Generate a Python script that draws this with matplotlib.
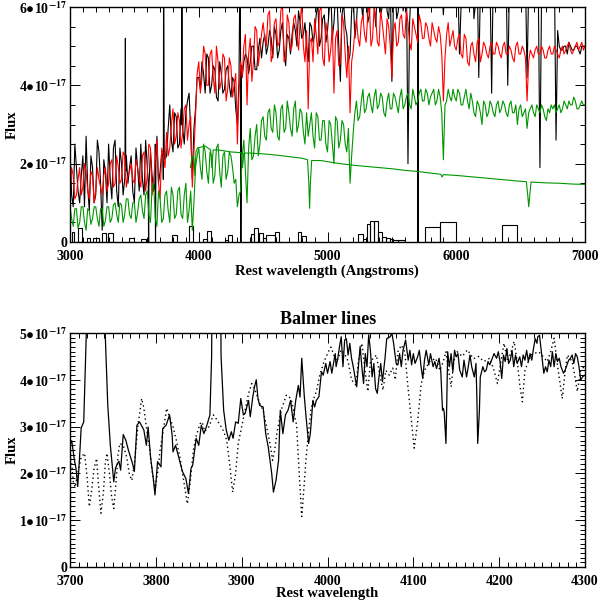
import numpy as np
import matplotlib
matplotlib.use('Agg')
import matplotlib.pyplot as plt
from matplotlib.ticker import MultipleLocator, FuncFormatter

plt.rcParams['font.family'] = ['Liberation Serif', 'DejaVu Serif']
plt.rcParams['font.weight'] = 'bold'
plt.rcParams['mathtext.fontset'] = 'stix'

# ---- top panel: full spectrum (flux in units of 1e-17) ----
wave = np.arange(3000, 7001, 25)
wave_mid = np.arange(3012.5, 7000, 25)

red_flux = [
    1.3, 1.7, 1.2, 1.9, 1.4, 1.8, 1.1, 1.7, 1.3, 1.6,
    1.2, 1.9, 1.5, 2.1, 1.5, 1.9, 1.6, 2.2, 1.7, 2.0,
    1.5, 1.9, 1.4, 2.3, 1.7, 2.4, 1.6, 2.6, 1.1, 2.2,
    2.8, 2.4, 3.4, 2.7, 3.1, 2.8, 3.5, 3.0, 1.4, 3.2,
    4.6, 4.2, 4.8, 4.0, 4.9, 3.8, 4.6, 4.1, 4.7, 3.9,
    4.5, 4.0, 2.5, 4.6, 5.0, 3.5, 5.2, 4.6, 5.4, 4.9,
    5.6, 5.0, 5.9, 4.8, 5.7, 5.1, 6.1, 4.7, 5.6, 5.0,
    5.8, 4.9, 6.1, 4.6, 3.4, 5.2, 5.7, 4.8, 6.0, 4.5,
    5.3, 4.9, 3.8, 5.4, 4.6, 5.6, 4.2, 3.3, 4.9, 5.7,
    5.0, 5.8, 5.1, 6.1, 5.2, 5.7, 5.0, 5.6, 4.8, 5.5,
    4.2, 5.6, 5.1, 5.8, 5.2, 5.6, 4.9, 5.5, 5.1, 5.6,
    5.2, 5.5, 5.0, 5.4, 5.1, 5.3, 3.6, 5.3, 5.0, 5.4,
    4.9, 5.3, 4.7, 5.2, 4.5, 5.1, 4.6, 5.2, 4.8, 5.0,
    4.7, 5.1, 4.8, 5.0, 4.7, 5.1, 4.8, 4.9, 4.6, 5.1,
    4.8, 4.9, 3.6, 4.9, 4.7, 5.0, 4.8, 4.9, 4.7, 5.0,
    4.8, 4.9, 4.7, 5.0, 4.9, 5.1, 4.8, 5.0, 4.9, 5.1,
    5.0]
red_flux_mid = [
    1.9, 1.1, 1.6, 1.2, 2.0, 1.3, 1.8, 1.0, 1.9, 1.4,
    1.7, 1.3, 2.0, 1.4, 2.2, 1.5, 2.3, 1.4, 1.8, 1.6,
    2.1, 1.6, 2.2, 1.3, 2.5, 1.2, 2.1, 1.5, 2.4, 1.9,
    2.2, 3.0, 2.5, 3.3, 2.4, 3.4, 2.6, 3.2, 2.3, 4.3,
    3.8, 5.0, 4.0, 4.8, 4.2, 5.0, 3.9, 4.8, 3.6, 4.7,
    3.7, 4.3, 3.8, 4.2, 5.3, 4.8, 4.1, 5.5, 4.5, 5.3,
    5.2, 5.8, 4.6, 5.6, 5.0, 5.9, 4.6, 5.8, 4.9, 5.7,
    5.3, 5.6, 5.0, 5.4, 5.1, 4.6, 5.3, 5.9, 4.7, 5.6,
    4.6, 5.5, 5.2, 4.5, 5.8, 4.8, 5.0, 4.6, 5.4, 5.2,
    5.6, 5.3, 5.8, 5.0, 6.0, 5.1, 5.9, 5.2, 5.7, 5.0,
    5.4, 5.0, 5.7, 5.3, 5.9, 5.1, 5.7, 5.3, 5.8, 5.2,
    5.6, 5.2, 5.6, 5.2, 5.5, 4.8, 4.7, 5.6, 5.2, 5.0,
    5.2, 4.8, 5.3, 4.6, 5.0, 4.8, 5.1, 4.6, 5.1, 4.8,
    5.0, 4.8, 5.1, 4.8, 5.0, 4.8, 5.0, 4.7, 5.0, 4.8,
    5.0, 4.7, 4.6, 4.8, 4.9, 4.8, 5.0, 4.7, 4.9, 4.8,
    5.0, 4.8, 4.9, 4.8, 5.0, 4.9, 4.9, 5.1, 5.0, 4.9]

green_flux = [
    0.9, 0.4, 0.85, 0.5, 0.9, 0.3, 0.8, 0.6, 0.9, 0.4,
    0.85, 0.55, 0.9, 0.6, 1.0, 0.5, 0.95, 0.7, 1.1, 0.6,
    1.0, 0.75, 1.2, 0.6, 1.3, 0.5, 1.5, 0.4, 1.1, 0.6,
    1.3, 0.5, 1.2, 0.7, 1.4, 0.6, 1.5, 0.8, 0.3, 1.9,
    2.4, 1.6, 2.3, 1.5, 2.2, 1.7, 2.5, 1.4, 2.3, 1.8,
    2.2, 1.5, 0.9, 1.3, 2.6, 1.0, 2.9, 2.2, 3.0, 2.5,
    3.2, 2.6, 3.4, 2.8, 3.3, 2.6, 3.5, 2.9, 3.3, 2.7,
    3.6, 3.0, 3.3, 2.5, 2.7, 3.3, 2.4, 3.2, 2.6, 3.1,
    2.3, 3.0, 2.0, 3.1, 2.6, 3.0, 2.3, 1.5, 2.8, 3.6,
    3.2, 3.9, 3.4, 3.8, 3.3, 3.9, 3.5, 3.7, 3.2, 3.8,
    3.4, 3.7, 3.3, 3.9, 3.5, 3.8, 3.4, 3.7, 3.6, 3.9,
    3.6, 3.8, 3.7, 3.9, 3.6, 3.7, 2.1, 3.6, 3.7, 3.9,
    3.6, 3.8, 3.5, 3.9, 3.4, 3.6, 3.2, 3.5, 3.0, 3.5,
    3.3, 3.5, 3.2, 3.6, 3.4, 3.5, 3.2, 3.6, 3.3, 3.0,
    3.5, 3.3, 2.9, 3.4, 3.3, 3.5, 3.3, 3.4, 3.1, 3.3,
    3.4, 3.3, 3.5, 3.4, 3.5, 3.6, 3.5, 3.6, 3.4, 3.6,
    3.5]
green_flux_mid = [
    0.6, 0.85, 0.35, 0.9, 0.5, 0.85, 0.45, 0.9, 0.6, 0.85,
    0.4, 0.9, 0.5, 0.95, 0.7, 1.0, 0.5, 1.1, 0.7, 1.0,
    0.5, 1.1, 0.8, 1.2, 0.7, 1.4, 0.6, 1.3, 0.5, 1.2,
    0.8, 1.4, 0.6, 1.3, 0.7, 1.2, 0.5, 1.3, 1.0, 2.2,
    1.9, 2.5, 1.8, 2.3, 1.5, 2.4, 1.8, 2.2, 1.6, 2.3,
    1.9, 1.6, 1.2, 2.2, 1.8, 2.4, 2.1, 2.7, 2.2, 3.1,
    2.7, 3.3, 2.9, 3.5, 2.7, 3.4, 2.8, 3.6, 2.9, 3.4,
    2.8, 3.4, 2.8, 3.3, 3.0, 2.7, 3.3, 2.6, 3.1, 2.5,
    3.1, 2.5, 3.2, 2.4, 3.1, 2.5, 2.9, 2.2, 3.3, 3.1,
    3.6, 3.3, 3.7, 3.5, 3.7, 3.4, 3.8, 3.3, 3.6, 3.4,
    3.8, 3.5, 3.7, 3.4, 3.7, 3.5, 3.9, 3.5, 3.8, 3.6,
    3.9, 3.5, 3.8, 3.5, 3.9, 3.3, 3.5, 3.9, 3.6, 3.7,
    3.9, 3.5, 3.7, 3.6, 3.8, 3.3, 3.6, 3.3, 3.6, 3.2,
    3.6, 3.3, 3.5, 3.3, 3.6, 3.3, 3.5, 3.3, 3.5, 3.4,
    3.2, 3.4, 3.3, 3.5, 3.2, 3.4, 3.5, 3.2, 3.4, 3.5,
    3.5, 3.4, 3.3, 3.6, 3.4, 3.5, 3.7, 3.4, 3.5, 3.5]

black_flux = [
    2.4, 0.9, 1.9, 1.0, 2.2, 2.7, 0.8, 1.9, 1.2, 2.3,
    0.3, 1.8, 2.5, 1.1, 2.6, 0.9, 2.0, 1.6, 1.5, 2.2,
    1.0, 1.9, 2.5, 1.2, 1.9, 2.3, 1.3, 2.7, 1.8, 1.6,
    2.2, 3.5, 2.3, 3.2, 2.5, 2.9, 3.3, 3.8, 1.6, 3.4,
    4.2, 4.6, 3.8, 4.7, 4.0, 4.4, 3.6, 4.3, 3.9, 4.5,
    3.7, 4.1, 3.0, 4.6, 4.6, 4.7, 4.6, 5.0, 4.4, 5.2,
    5.1, 4.8, 5.4, 4.7, 5.3, 4.9, 5.6, 4.5, 5.2, 5.3,
    5.4, 5.9, 5.2, 5.6, 4.6, 5.5, 5.3, 6.1, 5.2, 5.8,
    5.4, 6.5, 5.6, 6.2, 4.1, 6.1, 5.3, 4.8, 6.3, 5.6,
    6.5, 5.7, 6.6, 5.8, 6.4, 5.5, 6.6, 6.0, 6.8, 5.7,
    4.1, 6.5, 5.9, 6.8, 6.2, 2.0, 6.5, 6.8, 7.0, 6.9,
    6.6, 6.9, 6.2, 7.0, 6.4, 6.8, 5.8, 7.0, 6.3, 6.9,
    6.2, 4.8, 6.9, 6.8, 6.0, 6.9, 6.1, 4.2, 6.7, 6.3,
    6.9, 3.8, 6.8, 6.2, 6.9, 6.4, 4.0, 6.7, 6.7, 6.3,
    6.9, 6.2, 4.2, 6.8, 6.3, 6.9, 1.9, 6.8, 6.4, 6.9,
    6.2, 2.6, 5.0, 4.9, 5.0, 5.1, 4.9, 5.0, 4.9, 5.0,
    5.0]
black_flux_mid = [
    1.2, 2.5, 1.3, 1.7, 0.9, 1.4, 2.2, 1.0, 2.6, 1.5,
    2.1, 1.0, 1.6, 2.4, 1.3, 2.4, 1.2, 2.2, 1.9, 1.3,
    2.4, 1.3, 1.6, 2.6, 1.4, 1.7, 2.5, 1.5, 2.3, 2.1,
    2.9, 2.6, 3.3, 2.4, 3.4, 2.5, 3.6, 2.8, 2.9, 4.2,
    3.9, 4.3, 4.8, 3.8, 4.5, 3.7, 4.6, 3.8, 4.4, 4.0,
    4.2, 3.4, 4.1, 4.2, 4.8, 4.3, 5.0, 4.4, 4.9, 4.7,
    5.3, 5.0, 5.2, 5.5, 4.7, 5.4, 4.9, 5.3, 4.8, 5.6,
    5.0, 5.6, 5.3, 5.0, 5.6, 5.1, 5.8, 5.0, 5.7, 5.1,
    5.9, 5.2, 6.3, 5.0, 5.8, 5.5, 4.6, 5.9, 5.2, 6.4,
    6.1, 6.8, 5.6, 6.5, 6.0, 6.7, 5.8, 6.3, 5.9, 6.6,
    6.2, 5.7, 6.6, 5.9, 6.9, 5.6, 7.0, 6.4, 6.8, 6.2,
    7.0, 6.4, 6.8, 6.3, 7.0, 6.5, 6.6, 6.4, 7.0, 6.2,
    6.7, 6.1, 7.0, 6.4, 6.8, 5.7, 6.9, 6.5, 7.0, 6.1,
    6.6, 6.9, 6.3, 6.9, 6.0, 6.7, 6.5, 6.9, 6.1, 6.8,
    6.5, 6.8, 6.5, 6.1, 6.9, 6.4, 6.3, 6.7, 6.2, 6.6,
    6.8, 5.4, 4.9, 5.0, 4.8, 5.0, 4.9, 5.0, 4.8, 5.0]

# emission lines / bad pixels in the black spectrum
spike_wave = [3427, 3430, 3433, 3608, 3611, 3614, 3661, 3664, 3667,
              3722, 3727, 3732, 3866, 3869, 3872, 4321, 4327, 4332,
              5703, 5707]
spike_flux = [1.8, 5.2, 1.8, 1.5, -0.5, 1.5, 1.5, -0.5, 2.0,
              2.2, 7.5, 2.2, 3.0, 7.5, 3.0, 7.5, -0.5, 4.5,
              -0.5, 7.5]

model_wave = [3935, 3950, 3962, 3970, 3978, 3990,
              4050, 4092, 4102, 4112, 4150, 4250, 4330, 4340, 4350, 4400,
              4500, 4600, 4700, 4800, 4845, 4855, 4861, 4867, 4877, 4950,
              5000, 5100, 5200, 5300, 5400, 5500, 5600, 5700, 5800, 5880,
              5890, 5900, 6000, 6100, 6200, 6300, 6400, 6500, 6545, 6555,
              6563, 6571, 6581, 6700, 6800, 6900, 7000]
model_flux = [1.9, 2.2, 2.15, 1.7, 2.3, 2.4,
              2.45, 2.35, 1.9, 2.35, 2.35, 2.3, 2.28, 1.9, 2.27, 2.27,
              2.25, 2.22, 2.18, 2.14, 2.1, 1.5, 0.86, 1.5, 2.08, 2.08,
              2.05, 2.0, 1.96, 1.93, 1.9, 1.87, 1.83, 1.8, 1.76, 1.73,
              1.66, 1.72, 1.7, 1.67, 1.64, 1.61, 1.58, 1.55, 1.54, 1.2,
              0.9, 1.2, 1.53, 1.51, 1.5, 1.48, 1.47]

hist_left = [3012, 3062, 3129, 3179, 3248, 3296, 3462, 3554, 3796, 3921,
             4033, 4064, 4200, 4228, 4409, 4431, 4470, 4498, 4526, 4590,
             4771, 4798, 5239, 5273, 5304, 5330, 5361, 5395, 5426, 5452,
             5486, 5512, 5551, 5757, 5874, 6353]
hist_right = [3034, 3096, 3156, 3224, 3276, 3337, 3495, 3590, 3829, 3955,
              4064, 4097, 4228, 4261, 4431, 4464, 4498, 4526, 4590, 4626,
              4798, 4832, 5273, 5304, 5330, 5361, 5395, 5426, 5452, 5486,
              5512, 5551, 5603, 5874, 5996, 6474]
hist_height = [0.26, 0.35, 0.09, 0.10, 0.22, 0.24, 0.10, 0.07, 0.18, 0.40,
               0.07, 0.28, 0.05, 0.17, 0.21, 0.35, 0.24, 0.10, 0.19, 0.26,
               0.26, 0.16, 0.20, 0.08, 0.46, 0.54, 0.53, 0.25, 0.13, 0.10,
               0.08, 0.06, 0.04, 0.39, 0.50, 0.43]

# ---- bottom panel: Balmer region ----
obs_wave = [3700, 3702, 3705, 3707, 3709, 3711, 3713, 3716, 3719, 3722,
            3738, 3741, 3744, 3747, 3751, 3753, 3755, 3757, 3759, 3762,
            3765, 3768, 3771, 3773, 3775, 3778, 3781, 3784, 3786, 3789,
            3791, 3794, 3797, 3799, 3802, 3806, 3808, 3812, 3816, 3819,
            3820, 3823, 3827, 3831, 3835, 3838, 3841, 3843, 3847, 3850,
            3853, 3856, 3859, 3863, 3865, 3866, 3875, 3876, 3879, 3882,
            3885, 3888, 3890, 3893, 3896, 3899, 3902, 3904, 3908, 3910,
            3913, 3915, 3917, 3919, 3921, 3925, 3928, 3931, 3935, 3937,
            3940, 3943, 3945, 3948, 3951, 3954, 3957, 3960, 3963, 3966,
            3968, 3970, 3973, 3975, 3978, 3980, 3983, 3985, 3987, 3990,
            3993, 3995, 3998, 4000, 4003, 4005, 4007, 4009, 4010, 4012,
            4014, 4016, 4018, 4020, 4022, 4024, 4026, 4028, 4030, 4032,
            4034, 4036, 4038, 4040, 4042, 4044, 4046, 4048, 4050, 4052,
            4054, 4056, 4058, 4060, 4062, 4064, 4067, 4069, 4073, 4075,
            4077, 4080, 4082, 4084, 4086, 4088, 4091, 4094, 4096, 4098,
            4100, 4102, 4105, 4107, 4109, 4111, 4113, 4115, 4118, 4120,
            4123, 4125, 4127, 4130, 4132, 4134, 4135, 4136, 4138, 4139,
            4140, 4142, 4144, 4146, 4148, 4150, 4152, 4154, 4157, 4159,
            4162, 4164, 4166, 4168, 4171, 4173, 4174, 4175, 4177, 4178,
            4181, 4183, 4185, 4187, 4189, 4192, 4194, 4197, 4199, 4201,
            4203, 4205, 4207, 4209, 4211, 4213, 4215, 4217, 4219, 4221,
            4224, 4226, 4228, 4230, 4232, 4234, 4236, 4238, 4240, 4242,
            4244, 4245, 4247, 4249, 4251, 4252, 4254, 4256, 4258, 4260,
            4262, 4264, 4266, 4268, 4270, 4272, 4275, 4277, 4279, 4281,
            4283, 4285, 4287, 4289, 4291, 4293, 4295, 4297, 4300]
obs_flux = [2.6, 2.7, 2.3, 2.1, 1.72, 2.3, 2.97, 3.1, 5.0, 7.5,
            7.5, 5.0, 3.46, 2.6, 1.82, 2.11, 2.2, 2.26, 2.07, 2.83,
            2.71, 2.5, 2.32, 2.2, 2.04, 3.03, 3.1, 3.0, 2.93, 2.6,
            2.99, 2.32, 1.9, 1.54, 2.25, 2.14, 2.96, 3.03, 3.25, 2.82,
            2.46, 2.6, 2.32, 2.04, 1.89, 1.57, 2.11, 2.18, 2.75, 2.6,
            3.03, 2.85, 3.0, 3.25, 4.5, 7.5, 7.5, 4.5, 3.35, 2.93,
            2.71, 2.89, 2.75, 3.1, 3.07, 3.6, 3.25, 3.28, 3.56, 3.21,
            3.64, 3.85, 4.0, 3.6, 3.45, 3.42, 2.85, 2.56, 2.0, 1.6,
            1.85, 2.28, 3.35, 2.85, 3.25, 3.35, 3.56, 3.1, 3.56, 3.88,
            3.63, 4.46, 3.64, 3.21, 2.64, 2.85, 3.56, 3.42, 3.56, 3.64,
            4.17, 4.1, 4.35, 4.14, 4.39, 4.14, 4.35, 4.56, 4.28, 4.46,
            4.71, 4.92, 4.28, 4.85, 4.88, 4.53, 4.78, 4.46, 4.28, 4.06,
            3.85, 4.28, 4.71, 4.28, 3.92, 4.56, 4.28, 4.96, 4.63, 4.06,
            4.35, 3.81, 3.71, 4.06, 4.35, 3.96, 4.46, 4.88, 4.92, 5.0,
            4.78, 4.35, 4.32, 4.56, 4.28, 4.63, 4.85, 4.42, 4.63, 4.32,
            4.56, 4.35, 4.49, 4.63, 4.28, 4.03, 4.42, 4.63, 4.32, 4.56,
            4.28, 4.39, 4.24, 4.46, 4.17, 3.35, 3.39, 3.3, 2.64, 3.56,
            4.6, 4.28, 4.56, 4.17, 4.63, 4.49, 4.56, 4.21, 4.06, 4.42,
            4.06, 4.28, 4.53, 4.28, 4.06, 4.35, 3.64, 2.64, 3.35, 4.06,
            4.28, 4.17, 4.21, 4.39, 4.32, 4.46, 4.56, 4.46, 4.6, 4.39,
            4.03, 4.53, 4.39, 4.67, 4.35, 4.42, 4.63, 4.28, 4.53, 4.35,
            4.49, 4.28, 4.53, 4.42, 4.63, 4.39, 4.56, 4.42, 4.67, 4.88,
            4.78, 4.92, 4.95, 4.63, 4.32, 4.14, 4.28, 4.17, 4.42, 4.28,
            4.6, 4.28, 4.56, 4.39, 4.46, 4.28, 4.14, 4.21, 4.32, 4.42,
            4.46, 4.53, 4.35, 4.56, 4.49, 4.28, 3.99, 4.06, 4.1]

fit_wave = [3700, 3702, 3704, 3706, 3709, 3713, 3717, 3720, 3722.5, 3725,
            3728, 3731, 3733, 3736, 3739, 3741, 3743, 3746, 3748.5, 3751,
            3754, 3756, 3758, 3762, 3766, 3769, 3772, 3775, 3779, 3783.5,
            3786, 3789, 3793, 3796, 3799, 3802, 3805, 3809, 3812.6, 3816,
            3820, 3824, 3828, 3832, 3836.7, 3840, 3843.7, 3847, 3851.5, 3854,
            3857, 3862, 3867, 3871, 3875, 3879, 3882.5, 3886, 3889.5, 3893,
            3896, 3900, 3904, 3908, 3911.7, 3914, 3917, 3921, 3925, 3929,
            3933, 3936, 3938.5, 3941, 3946, 3952, 3955, 3958, 3961, 3964,
            3967, 3970, 3973, 3975, 3978, 3981, 3984, 3987, 3991, 3996,
            4002, 4004, 4008, 4011, 4016, 4020, 4024, 4028, 4033, 4036,
            4040, 4043, 4047, 4050, 4057, 4060, 4064.6, 4068, 4072, 4076,
            4079, 4082, 4086, 4090, 4093.5, 4097, 4101, 4105, 4109, 4113,
            4119, 4126, 4131, 4135, 4138, 4144, 4147, 4151, 4157, 4163,
            4170, 4176, 4182, 4189, 4194, 4198, 4202, 4205.7, 4210, 4214,
            4217.4, 4221, 4224, 4227, 4230, 4237, 4246, 4251, 4256, 4260,
            4264, 4268, 4273.5, 4277, 4279.5, 4285, 4288, 4291, 4295, 4300]
fit_flux = [2.5, 2.2, 1.8, 1.7, 2.0, 2.35, 2.43, 1.9, 1.29, 1.6,
            2.1, 2.32, 1.8, 1.15, 1.6, 2.2, 2.43, 2.0, 1.5, 1.25,
            1.9, 2.4, 2.64, 2.6, 2.35, 2.0, 1.85, 2.2, 3.0, 3.6,
            3.4, 2.99, 2.5, 2.0, 1.65, 2.0, 2.5, 2.96, 3.39, 3.2,
            3.0, 2.7, 2.35, 1.9, 1.35, 1.8, 2.49, 2.8, 3.06, 3.1,
            2.9, 3.0, 3.25, 3.15, 3.03, 2.9, 2.71, 2.2, 1.6, 2.0,
            2.64, 3.0, 3.35, 3.7, 3.92, 3.85, 3.71, 3.5, 3.35, 3.0,
            2.64, 2.28, 2.5, 2.85, 3.35, 3.67, 3.65, 3.56, 3.3, 3.03,
            2.0, 1.08, 1.8, 2.32, 2.9, 3.39, 3.6, 3.75, 4.1, 4.39,
            4.64, 4.7, 4.5, 4.39, 4.64, 4.55, 4.4, 4.0, 3.89, 4.39,
            4.78, 4.3, 3.75, 4.39, 4.53, 4.2, 3.78, 4.2, 4.1, 4.25,
            4.0, 4.6, 4.74, 4.6, 3.89, 3.25, 2.54, 3.1, 3.89, 4.2,
            4.39, 4.46, 4.2, 4.4, 4.6, 3.85, 4.39, 4.6, 4.5, 4.64,
            4.45, 4.5, 4.39, 4.46, 4.2, 3.92, 4.4, 4.78, 4.39, 4.6,
            4.82, 4.4, 3.9, 3.53, 4.2, 4.53, 4.6, 4.5, 4.39, 4.6,
            4.89, 4.3, 3.6, 4.2, 4.53, 4.39, 4.1, 3.75, 4.2, 4.3]


def merged(w1, f1, w2, f2):
    w = np.concatenate([w1, w2])
    f = np.concatenate([f1, f2])
    order = np.argsort(w, kind='stable')
    return w[order], f[order]


def flux_label(v, pos):
    n = int(round(v))
    if n == 0:
        return '0'
    return r'%d$\bullet$10$^{\mathbf{-17}}$' % n


def style_axes(ax):
    for s in ax.spines.values():
        s.set_linewidth(1.0)
    ax.tick_params(which='both', direction='in', top=True, right=True,
                   width=0.7, labelsize=10)
    ax.tick_params(which='major', length=7.5)
    ax.tick_params(which='minor', length=3.5)
    ax.tick_params(axis='x', pad=6)
    ax.tick_params(axis='y', pad=2)
    ax.yaxis.set_major_formatter(FuncFormatter(flux_label))


fig = plt.figure(figsize=(6.0, 6.08), dpi=100)

ax1 = fig.add_axes([70 / 600, 1 - 242 / 608, 515 / 600, 235 / 608])
bw, bf = merged(wave, black_flux, wave_mid, black_flux_mid)
bw, bf = merged(bw, bf, spike_wave, spike_flux)
rw, rf = merged(wave, red_flux, wave_mid, red_flux_mid)
gw, gf = merged(wave, green_flux, wave_mid, green_flux_mid)
ax1.plot(bw, bf, color='black', lw=0.8)
ax1.plot(rw, rf, color='#ff0000', lw=0.8)
ax1.plot(gw, gf, color='#009600', lw=0.8)
ax1.plot(model_wave, model_flux, color='#009600', lw=0.8)
ax1.bar(hist_left, hist_height,
        width=np.array(hist_right) - np.array(hist_left),
        align='edge', fill=False, edgecolor='black', lw=0.8)
ax1.set_xlim(3000, 7000)
ax1.set_ylim(0, 6)
ax1.xaxis.set_major_locator(MultipleLocator(1000))
ax1.xaxis.set_minor_locator(MultipleLocator(100))
ax1.yaxis.set_major_locator(MultipleLocator(2))
ax1.yaxis.set_minor_locator(MultipleLocator(0.5))
style_axes(ax1)

ax2 = fig.add_axes([70 / 600, 1 - 567 / 608, 515 / 600, 234 / 608])
ax2.plot(obs_wave, obs_flux, color='black', lw=0.9)
ax2.plot(fit_wave, fit_flux, color='black', lw=1.0, linestyle=(0, (1, 2.2)))
ax2.set_xlim(3700, 4300)
ax2.set_ylim(0, 5)
ax2.xaxis.set_major_locator(MultipleLocator(100))
ax2.xaxis.set_minor_locator(MultipleLocator(10))
ax2.yaxis.set_major_locator(MultipleLocator(1))
ax2.yaxis.set_minor_locator(MultipleLocator(0.1))
style_axes(ax2)

fig.text(12 / 600, 1 - 125 / 608, 'Flux', rotation=90, fontsize=10.5,
         fontweight='bold', ha='center', va='center')
fig.text(327 / 600, 1 - 271 / 608, 'Rest wavelength (Angstroms)',
         fontsize=10.5, fontweight='bold', ha='center', va='center')
fig.text(12 / 600, 1 - 450 / 608, 'Flux', rotation=90, fontsize=10.5,
         fontweight='bold', ha='center', va='center')
fig.text(327 / 600, 1 - 594 / 608, 'Rest wavelength', fontsize=10.5,
         fontweight='bold', ha='center', va='center')
fig.text(328 / 600, 1 - 319 / 608, 'Balmer lines', fontsize=13,
         fontweight='bold', ha='center', va='center')

fig.savefig('out.png', dpi=100)
